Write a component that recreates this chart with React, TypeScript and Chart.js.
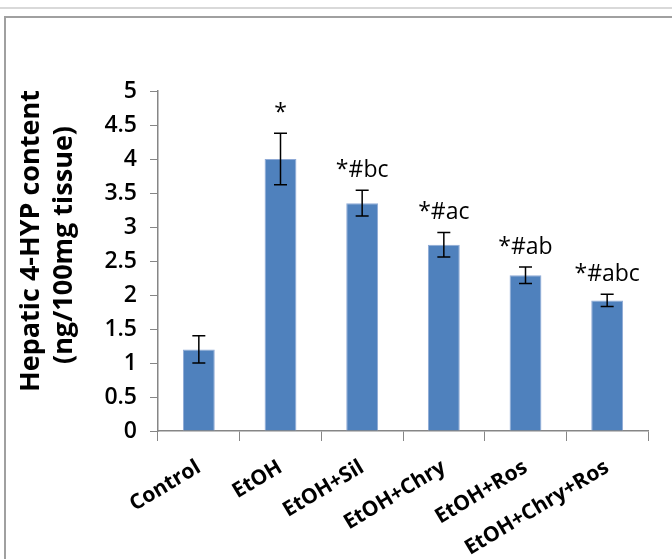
import React, { useEffect, useRef } from 'react';
import { Chart, registerables } from 'chart.js';

Chart.register(...registerables);

const categories = ['Control', 'EtOH', 'EtOH+Sil', 'EtOH+Chry', 'EtOH+Ros', 'EtOH+Chry+Ros'];
const meanValues = [1.2, 4.0, 3.35, 2.74, 2.29, 1.92];
const errorValues = [0.2, 0.38, 0.19, 0.18, 0.12, 0.09];
const significanceLabels = ['', '*', '*#bc', '*#ac', '*#ab', '*#abc'];
const yAxisTitle = ['Hepatic 4-HYP content', '(ng/100mg tissue)'];
const yMin = 0;
const yMax = 5;
const yStep = 0.5;

const FONT = "'Open Sans', 'DejaVu Sans', sans-serif";

const errorBarPlugin = {
  id: 'errorBars',
  afterDatasetsDraw(chart: any) {
    const ctx = chart.ctx;
    const meta = chart.getDatasetMeta(0);
    const yScale = chart.scales.y;
    ctx.save();
    meta.data.forEach((el: any, i: number) => {
      const m = meanValues[i];
      const e = errorValues[i];
      const x = el.x;
      const yTop = yScale.getPixelForValue(m + e);
      const yBot = yScale.getPixelForValue(m - e);
      ctx.strokeStyle = '#000';
      ctx.lineWidth = 1.5;
      ctx.beginPath();
      ctx.moveTo(x, yTop);
      ctx.lineTo(x, yBot);
      ctx.moveTo(x - 6.5, yTop);
      ctx.lineTo(x + 6.5, yTop);
      ctx.moveTo(x - 6.5, yBot);
      ctx.lineTo(x + 6.5, yBot);
      ctx.stroke();
      const lbl = significanceLabels[i];
      if (lbl) {
        ctx.fillStyle = '#000';
        ctx.font = `23px ${FONT}`;
        ctx.textAlign = 'center';
        ctx.textBaseline = 'alphabetic';
        ctx.fillText(lbl, x, yTop - 13);
      }
    });
    ctx.restore();
  },
};

const yTitlePlugin = {
  id: 'yTitle',
  afterDraw(chart: any) {
    const ctx = chart.ctx;
    const area = chart.chartArea;
    const cy = (area.top + area.bottom) / 2 - 20;
    ctx.save();
    ctx.fillStyle = '#000';
    ctx.font = `bold 27px ${FONT}`;
    ctx.textAlign = 'center';
    ctx.textBaseline = 'middle';
    const xs = [31, 64];
    yAxisTitle.forEach((line, i) => {
      ctx.save();
      ctx.translate(xs[i], cy + i * 4);
      ctx.rotate(-Math.PI / 2);
      ctx.fillText(line, 0, 0);
      ctx.restore();
    });
    ctx.restore();
  },
};

export default function App() {
  const ref = useRef<HTMLCanvasElement | null>(null);

  useEffect(() => {
    if (!ref.current) return;
    const chart = new Chart(ref.current, {
      type: 'bar',
      data: {
        labels: categories,
        datasets: [
          {
            data: meanValues,
            backgroundColor: '#4F81BD',
            borderColor: '#8FAAD6',
            borderWidth: 1,
            barPercentage: 0.39,
            categoryPercentage: 1,
          },
        ],
      },
      options: {
        responsive: false,
        animation: false,
        layout: { padding: { left: 8, right: 24, top: 91, bottom: 0 } },
        plugins: { legend: { display: false }, tooltip: { enabled: false } },
        scales: {
          x: {
            afterFit(scale: any) {
              scale.height = 128;
            },
            grid: {
              display: true,
              drawOnChartArea: false,
              drawTicks: true,
              tickLength: 10,
              color: '#868686',
              offset: true,
            },
            border: { display: true, color: '#868686', width: 1.5 },
            ticks: {
              color: '#000',
              font: { family: FONT, size: 21, weight: 'bold' },
              minRotation: 31,
              maxRotation: 31,
              padding: 14,
            },
          },
          y: {
            min: yMin,
            max: yMax,
            afterFit(scale: any) {
              scale.width = 150;
            },
            grid: {
              display: true,
              drawOnChartArea: false,
              drawTicks: true,
              tickLength: 8,
              color: '#868686',
            },
            border: { display: true, color: '#868686', width: 1.5 },
            ticks: {
              stepSize: yStep,
              color: '#000',
              font: { family: FONT, size: 23, weight: '600' },
              padding: 13,
              callback: (v: any) => String(v),
            },
          },
        },
      },
      plugins: [errorBarPlugin, yTitlePlugin],
    });
    return () => chart.destroy();
  }, []);

  return (
    <div style={{ position: 'fixed', left: 0, top: 0, width: 672, height: 559, background: '#fff', overflow: 'hidden' }}>
      <div style={{ position: 'absolute', left: 0, top: 7, width: 672, height: 2, background: '#d9d9d9' }} />
      <div
        style={{
          position: 'absolute',
          left: 4,
          top: 16,
          width: 700,
          height: 600,
          borderLeft: '2px solid #a0a0a0',
          borderTop: '2px solid #a0a0a0',
        }}
      />
      <canvas ref={ref} width={672} height={559} style={{ position: 'absolute', left: 0, top: 0, width: 672, height: 559 }} />
    </div>
  );
}
